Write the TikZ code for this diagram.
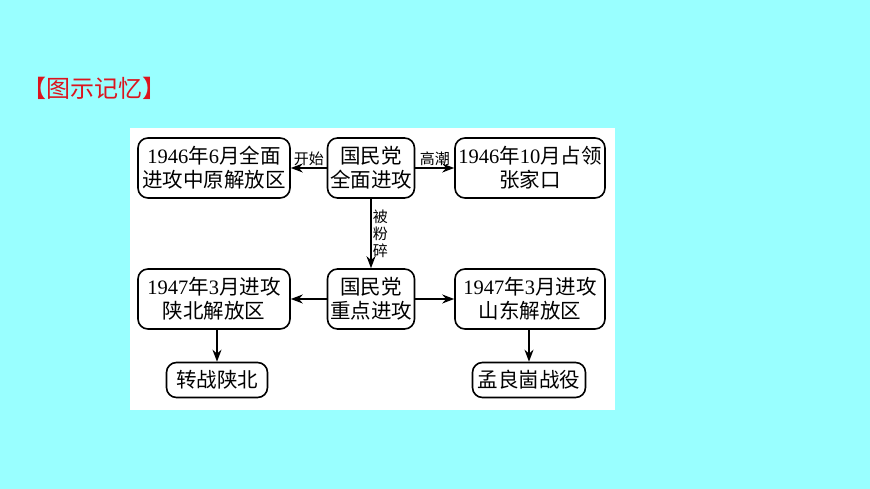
\documentclass[tikz,border=0pt]{standalone}
\usepackage{fontspec}
\setmainfont{Liberation Serif}
\newfontfamily\cjk{Noto Sans CJK SC}
\usetikzlibrary{arrows.meta}
\definecolor{bgcyan}{RGB}{153,255,255}
\definecolor{titlered}{RGB}{220,20,30}
\tikzset{
  evbox/.style={draw,line width=1.6pt,rounded corners=10pt,minimum height=60pt,align=center,
    inner sep=1pt,font=\fontsize{20.5}{24}\selectfont\cjk},
  endbox/.style={draw,line width=1.6pt,rounded corners=10pt,minimum height=35pt,inner sep=3pt,
    font=\fontsize{20.5}{24}\selectfont\cjk},
  arr/.style={line width=1.6pt,-{Stealth[length=12pt,width=9pt]}},
  lbl/.style={font=\fontsize{15}{16}\selectfont\cjk,inner sep=1pt}
}
\newcommand{\yr}[1]{{\rmfamily #1}}
\begin{document}
\begin{tikzpicture}[x=1pt,y=-1pt]
    \fill[bgcyan] (0,0) rectangle (870,489);
    \useasboundingbox (0,0) rectangle (870,489);
    \fill[white] (130,128) rectangle (615,410);
    \node[titlered,font=\fontsize{24}{26}\selectfont\cjk] (title) at (95,88) {【图示记忆】};

    % top row
    \node[evbox,minimum width=152pt] (qm) at (214,168) {\yr{1946}年\yr{6}月全面\\进攻中原解放区};
    \node[evbox,minimum width=87pt] (qq) at (371,168) {国民党\\全面进攻};
    \node[evbox,minimum width=150pt] (zj) at (530,168) {\yr{1946}年\yr{10}月占领\\张家口};
    % middle row
    \node[evbox,minimum width=152pt] (sb) at (214,299) {\yr{1947}年\yr{3}月进攻\\陕北解放区};
    \node[evbox,minimum width=87pt] (zd) at (371,299) {国民党\\重点进攻};
    \node[evbox,minimum width=150pt] (sd) at (530,299) {\yr{1947}年\yr{3}月进攻\\山东解放区};
    % bottom row
    \node[endbox,minimum width=101pt] (zz) at (217,380) {转战陕北};
    \node[endbox,minimum width=113pt] (mlg) at (529,380) {孟良崮战役};

    \draw[arr] (qq) -- node[lbl,above] {开始} (qm);
    \draw[arr] (qq) -- node[lbl,above] {高潮} (zj);
    \draw[arr] (qq) -- node[lbl,right,align=center,font=\fontsize{15}{17}\selectfont\cjk] {被\\粉\\碎} (zd);
    \draw[arr] (zd) -- (sb);
    \draw[arr] (zd) -- (sd);
    \draw[arr] (sb.south -| zz) -- (zz);
    \draw[arr] (sd.south -| mlg) -- (mlg);
\end{tikzpicture}
\end{document}
